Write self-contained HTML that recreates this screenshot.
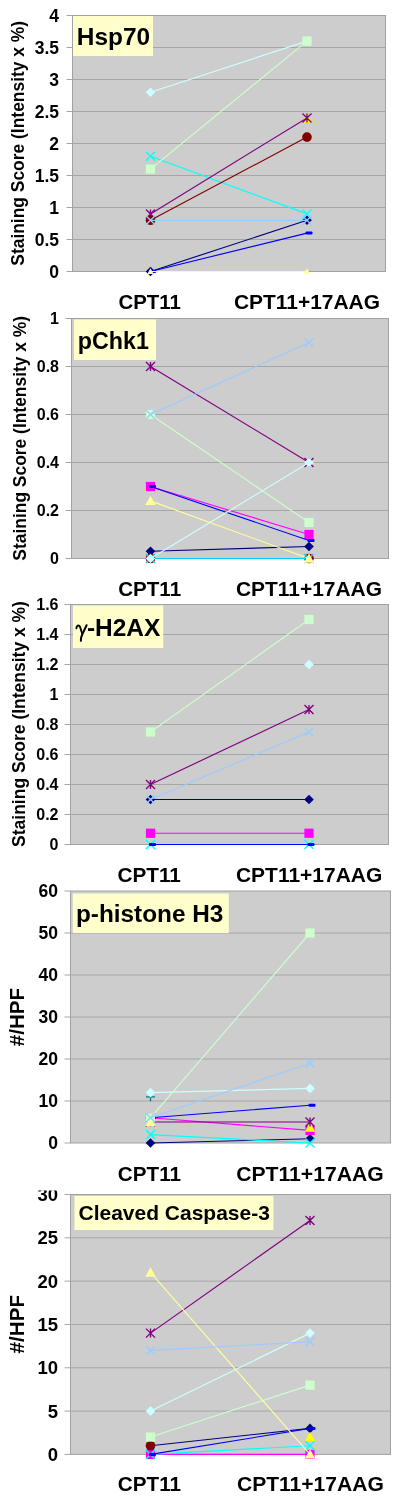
<!DOCTYPE html>
<html><head><meta charset="utf-8"><style>
html,body{margin:0;padding:0;background:#fff;}
svg{display:block;}
text{font-family:"Liberation Sans", sans-serif;fill:#000;}
svg{will-change:transform;filter:blur(0.45px);}
</style></head><body>
<svg width="400" height="1502" viewBox="0 0 400 1502">
<rect width="400" height="1502" fill="#fff"/>
<rect x="72.5" y="15.5" width="313.0" height="256.0" fill="#CDCDCD"/>
<line x1="66.5" y1="271.5" x2="72.5" y2="271.5" stroke="#A6A6A6" stroke-width="1"/>
<text x="59" y="277.80" text-anchor="end" font-size="17.5" font-weight="bold">0</text>
<line x1="72.5" y1="239.5" x2="385.5" y2="239.5" stroke="#A6A6A6" stroke-width="1"/>
<line x1="66.5" y1="239.5" x2="72.5" y2="239.5" stroke="#A6A6A6" stroke-width="1"/>
<text x="59" y="245.80" text-anchor="end" font-size="17.5" font-weight="bold">0.5</text>
<line x1="72.5" y1="207.5" x2="385.5" y2="207.5" stroke="#A6A6A6" stroke-width="1"/>
<line x1="66.5" y1="207.5" x2="72.5" y2="207.5" stroke="#A6A6A6" stroke-width="1"/>
<text x="59" y="213.80" text-anchor="end" font-size="17.5" font-weight="bold">1</text>
<line x1="72.5" y1="175.5" x2="385.5" y2="175.5" stroke="#A6A6A6" stroke-width="1"/>
<line x1="66.5" y1="175.5" x2="72.5" y2="175.5" stroke="#A6A6A6" stroke-width="1"/>
<text x="59" y="181.80" text-anchor="end" font-size="17.5" font-weight="bold">1.5</text>
<line x1="72.5" y1="143.5" x2="385.5" y2="143.5" stroke="#A6A6A6" stroke-width="1"/>
<line x1="66.5" y1="143.5" x2="72.5" y2="143.5" stroke="#A6A6A6" stroke-width="1"/>
<text x="59" y="149.80" text-anchor="end" font-size="17.5" font-weight="bold">2</text>
<line x1="72.5" y1="111.5" x2="385.5" y2="111.5" stroke="#A6A6A6" stroke-width="1"/>
<line x1="66.5" y1="111.5" x2="72.5" y2="111.5" stroke="#A6A6A6" stroke-width="1"/>
<text x="59" y="117.80" text-anchor="end" font-size="17.5" font-weight="bold">2.5</text>
<line x1="72.5" y1="79.5" x2="385.5" y2="79.5" stroke="#A6A6A6" stroke-width="1"/>
<line x1="66.5" y1="79.5" x2="72.5" y2="79.5" stroke="#A6A6A6" stroke-width="1"/>
<text x="59" y="85.80" text-anchor="end" font-size="17.5" font-weight="bold">3</text>
<line x1="72.5" y1="47.5" x2="385.5" y2="47.5" stroke="#A6A6A6" stroke-width="1"/>
<line x1="66.5" y1="47.5" x2="72.5" y2="47.5" stroke="#A6A6A6" stroke-width="1"/>
<text x="59" y="53.80" text-anchor="end" font-size="17.5" font-weight="bold">3.5</text>
<line x1="66.5" y1="15.5" x2="72.5" y2="15.5" stroke="#A6A6A6" stroke-width="1"/>
<text x="59" y="21.80" text-anchor="end" font-size="17.5" font-weight="bold">4</text>
<rect x="72.5" y="15.5" width="313.0" height="256.0" fill="none" stroke="#A2A2A2" stroke-width="1"/>
<rect x="73" y="16" width="80" height="40" fill="#FFFFCC"/>
<text x="76.77" y="45" font-size="24" font-family="'Liberation Sans'" font-weight="bold" textLength="73.30" lengthAdjust="spacingAndGlyphs">Hsp70</text>
<text transform="translate(23.5,264.7) rotate(-90)" x="-1.00" y="0" font-size="17.5" font-family="'Liberation Sans'" font-weight="bold" textLength="244.82" lengthAdjust="spacingAndGlyphs">Staining Score (Intensity x %)</text>
<text x="118.50" y="309.2" font-size="20.5" font-family="'Liberation Sans'" font-weight="bold" textLength="62.36" lengthAdjust="spacingAndGlyphs">CPT11</text>
<text x="233.98" y="309.2" font-size="20.5" font-family="'Liberation Sans'" font-weight="bold" textLength="146.04" lengthAdjust="spacingAndGlyphs">CPT11+17AAG</text>
<line x1="150.5" y1="271.50" x2="307.0" y2="220.30" stroke="#000080" stroke-width="1.15"/>
<path d="M150.5 266.7L155.3 271.5L150.5 276.3L145.7 271.5Z" fill="#000080"/>
<path d="M307.0 215.5L311.8 220.3L307.0 225.10000000000002L302.2 220.3Z" fill="#000080"/>
<path d="M307.0 113.34L312.2 122.74000000000001L301.8 122.74000000000001Z" fill="#FFFF00"/>
<line x1="150.5" y1="156.30" x2="307.0" y2="213.90" stroke="#00FFFF" stroke-width="1.15"/>
<path d="M146.0 151.8L155.0 160.8M155.0 151.8L146.0 160.8" stroke="#00FFFF" stroke-width="1.35" fill="none"/>
<path d="M302.5 209.4L311.5 218.4M311.5 209.4L302.5 218.4" stroke="#00FFFF" stroke-width="1.35" fill="none"/>
<line x1="150.5" y1="213.90" x2="307.0" y2="117.90" stroke="#800080" stroke-width="1.15"/>
<path d="M146.0 209.4L155.0 218.4M155.0 209.4L146.0 218.4M150.5 209.4L150.5 218.4" stroke="#800080" stroke-width="1.35" fill="none"/>
<path d="M302.5 113.4L311.5 122.4M311.5 113.4L302.5 122.4M307.0 113.4L307.0 122.4" stroke="#800080" stroke-width="1.35" fill="none"/>
<line x1="150.5" y1="220.30" x2="307.0" y2="137.10" stroke="#800000" stroke-width="1.15"/>
<circle cx="150.5" cy="220.3" r="4.8" fill="#800000"/>
<circle cx="307.0" cy="137.1" r="4.8" fill="#800000"/>
<line x1="150.5" y1="271.50" x2="307.0" y2="233.10" stroke="#0000FF" stroke-width="1.15"/>
<rect x="149.0" y="270.0" width="7" height="3" rx="1" fill="#0000FF"/>
<rect x="305.5" y="231.6" width="7" height="3" rx="1" fill="#0000FF"/>
<line x1="150.5" y1="92.30" x2="307.0" y2="41.10" stroke="#CCFFFF" stroke-width="1.15"/>
<path d="M150.5 87.5L155.3 92.3L150.5 97.1L145.7 92.3Z" fill="#CCFFFF"/>
<path d="M307.0 36.300000000000004L311.8 41.1L307.0 45.9L302.2 41.1Z" fill="#CCFFFF"/>
<line x1="150.5" y1="169.10" x2="307.0" y2="41.10" stroke="#CCFFCC" stroke-width="1.15"/>
<rect x="145.9" y="164.5" width="9.2" height="9.2" fill="#CCFFCC"/>
<rect x="302.4" y="36.5" width="9.2" height="9.2" fill="#CCFFCC"/>
<line x1="150.5" y1="271.50" x2="307.0" y2="271.50" stroke="#FFFF99" stroke-width="1.15"/>
<path d="M150.5 268.3L153.7 274.1L147.3 274.1Z" fill="#FFFF99"/>
<path d="M307.0 268.3L310.2 274.1L303.8 274.1Z" fill="#FFFF99"/>
<line x1="150.5" y1="220.30" x2="307.0" y2="220.30" stroke="#99CCFF" stroke-width="1.15"/>
<path d="M146.0 215.8L155.0 224.8M155.0 215.8L146.0 224.8" stroke="#99CCFF" stroke-width="1.35" fill="none"/>
<path d="M302.5 215.8L311.5 224.8M311.5 215.8L302.5 224.8" stroke="#99CCFF" stroke-width="1.35" fill="none"/>
<rect x="71.5" y="318.5" width="317.0" height="240.0" fill="#CDCDCD"/>
<line x1="65.5" y1="558.5" x2="71.5" y2="558.5" stroke="#A6A6A6" stroke-width="1"/>
<text x="59" y="564.26" text-anchor="end" font-size="16" font-weight="bold">0</text>
<line x1="71.5" y1="510.5" x2="388.5" y2="510.5" stroke="#A6A6A6" stroke-width="1"/>
<line x1="65.5" y1="510.5" x2="71.5" y2="510.5" stroke="#A6A6A6" stroke-width="1"/>
<text x="59" y="516.26" text-anchor="end" font-size="16" font-weight="bold">0.2</text>
<line x1="71.5" y1="462.5" x2="388.5" y2="462.5" stroke="#A6A6A6" stroke-width="1"/>
<line x1="65.5" y1="462.5" x2="71.5" y2="462.5" stroke="#A6A6A6" stroke-width="1"/>
<text x="59" y="468.26" text-anchor="end" font-size="16" font-weight="bold">0.4</text>
<line x1="71.5" y1="414.5" x2="388.5" y2="414.5" stroke="#A6A6A6" stroke-width="1"/>
<line x1="65.5" y1="414.5" x2="71.5" y2="414.5" stroke="#A6A6A6" stroke-width="1"/>
<text x="59" y="420.26" text-anchor="end" font-size="16" font-weight="bold">0.6</text>
<line x1="71.5" y1="366.5" x2="388.5" y2="366.5" stroke="#A6A6A6" stroke-width="1"/>
<line x1="65.5" y1="366.5" x2="71.5" y2="366.5" stroke="#A6A6A6" stroke-width="1"/>
<text x="59" y="372.26" text-anchor="end" font-size="16" font-weight="bold">0.8</text>
<line x1="65.5" y1="318.5" x2="71.5" y2="318.5" stroke="#A6A6A6" stroke-width="1"/>
<text x="59" y="324.26" text-anchor="end" font-size="16" font-weight="bold">1</text>
<rect x="71.5" y="318.5" width="317.0" height="240.0" fill="none" stroke="#A2A2A2" stroke-width="1"/>
<rect x="74" y="319.5" width="82" height="40.5" fill="#FFFFCC"/>
<text x="77.84" y="348.7" font-size="23.7" font-family="'Liberation Sans'" font-weight="bold" textLength="71.06" lengthAdjust="spacingAndGlyphs">pChk1</text>
<text transform="translate(26.3,559.65) rotate(-90)" x="-0.99" y="0" font-size="17.5" font-family="'Liberation Sans'" font-weight="bold" textLength="244.77" lengthAdjust="spacingAndGlyphs">Staining Score (Intensity x %)</text>
<text x="118.20" y="595.8" font-size="20.5" font-family="'Liberation Sans'" font-weight="bold" textLength="62.88" lengthAdjust="spacingAndGlyphs">CPT11</text>
<text x="235.98" y="595.8" font-size="20.5" font-family="'Liberation Sans'" font-weight="bold" textLength="146.04" lengthAdjust="spacingAndGlyphs">CPT11+17AAG</text>
<line x1="150.5" y1="551.30" x2="309.0" y2="546.50" stroke="#000080" stroke-width="1.15"/>
<path d="M150.5 546.5L155.3 551.3L150.5 556.0999999999999L145.7 551.3Z" fill="#000080"/>
<path d="M309.0 541.7L313.8 546.5L309.0 551.3L304.2 546.5Z" fill="#000080"/>
<line x1="150.5" y1="486.50" x2="309.0" y2="534.50" stroke="#FF00FF" stroke-width="1.15"/>
<rect x="145.9" y="481.9" width="9.2" height="9.2" fill="#FF00FF"/>
<rect x="304.4" y="529.9" width="9.2" height="9.2" fill="#FF00FF"/>
<line x1="150.5" y1="366.50" x2="309.0" y2="462.50" stroke="#800080" stroke-width="1.15"/>
<path d="M146.0 362.0L155.0 371.0M155.0 362.0L146.0 371.0M150.5 362.0L150.5 371.0" stroke="#800080" stroke-width="1.35" fill="none"/>
<path d="M304.5 458.0L313.5 467.0M313.5 458.0L304.5 467.0M309.0 458.0L309.0 467.0" stroke="#800080" stroke-width="1.35" fill="none"/>
<line x1="150.5" y1="558.50" x2="309.0" y2="558.50" stroke="#800000" stroke-width="1.15"/>
<circle cx="150.5" cy="558.5" r="4.8" fill="#800000"/>
<circle cx="309.0" cy="558.5" r="4.8" fill="#800000"/>
<line x1="150.5" y1="558.50" x2="309.0" y2="558.50" stroke="#00CCFF" stroke-width="1.15"/>
<path d="M146.0 554.0L155.0 563.0M155.0 554.0L146.0 563.0" stroke="#00CCFF" stroke-width="1.35" fill="none"/>
<path d="M304.5 554.0L313.5 563.0M313.5 554.0L304.5 563.0" stroke="#00CCFF" stroke-width="1.35" fill="none"/>
<line x1="150.5" y1="486.50" x2="309.0" y2="540.50" stroke="#0000FF" stroke-width="1.15"/>
<rect x="149.0" y="485.0" width="7" height="3" rx="1" fill="#0000FF"/>
<rect x="307.5" y="539.0" width="7" height="3" rx="1" fill="#0000FF"/>
<line x1="150.5" y1="558.50" x2="309.0" y2="462.50" stroke="#CCFFFF" stroke-width="1.15"/>
<path d="M150.5 553.7L155.3 558.5L150.5 563.3L145.7 558.5Z" fill="#CCFFFF"/>
<path d="M309.0 457.7L313.8 462.5L309.0 467.3L304.2 462.5Z" fill="#CCFFFF"/>
<line x1="150.5" y1="414.50" x2="309.0" y2="522.50" stroke="#CCFFCC" stroke-width="1.15"/>
<rect x="145.9" y="409.9" width="9.2" height="9.2" fill="#CCFFCC"/>
<rect x="304.4" y="517.9" width="9.2" height="9.2" fill="#CCFFCC"/>
<line x1="150.5" y1="500.90" x2="309.0" y2="558.50" stroke="#FFFF99" stroke-width="1.15"/>
<path d="M150.5 495.7L155.7 505.09999999999997L145.3 505.09999999999997Z" fill="#FFFF99"/>
<path d="M309.0 553.3L314.2 562.7L303.8 562.7Z" fill="#FFFF99"/>
<line x1="150.5" y1="414.50" x2="309.0" y2="342.50" stroke="#99CCFF" stroke-width="1.15"/>
<path d="M146.0 410.0L155.0 419.0M155.0 410.0L146.0 419.0" stroke="#99CCFF" stroke-width="1.35" fill="none"/>
<path d="M304.5 338.0L313.5 347.0M313.5 338.0L304.5 347.0" stroke="#99CCFF" stroke-width="1.35" fill="none"/>
<rect x="70.5" y="604.5" width="318.0" height="240.0" fill="#CDCDCD"/>
<line x1="64.5" y1="844.5" x2="70.5" y2="844.5" stroke="#A6A6A6" stroke-width="1"/>
<text x="58.5" y="850.26" text-anchor="end" font-size="16" font-weight="bold">0</text>
<line x1="70.5" y1="814.5" x2="388.5" y2="814.5" stroke="#A6A6A6" stroke-width="1"/>
<line x1="64.5" y1="814.5" x2="70.5" y2="814.5" stroke="#A6A6A6" stroke-width="1"/>
<text x="58.5" y="820.26" text-anchor="end" font-size="16" font-weight="bold">0.2</text>
<line x1="70.5" y1="784.5" x2="388.5" y2="784.5" stroke="#A6A6A6" stroke-width="1"/>
<line x1="64.5" y1="784.5" x2="70.5" y2="784.5" stroke="#A6A6A6" stroke-width="1"/>
<text x="58.5" y="790.26" text-anchor="end" font-size="16" font-weight="bold">0.4</text>
<line x1="70.5" y1="754.5" x2="388.5" y2="754.5" stroke="#A6A6A6" stroke-width="1"/>
<line x1="64.5" y1="754.5" x2="70.5" y2="754.5" stroke="#A6A6A6" stroke-width="1"/>
<text x="58.5" y="760.26" text-anchor="end" font-size="16" font-weight="bold">0.6</text>
<line x1="70.5" y1="724.5" x2="388.5" y2="724.5" stroke="#A6A6A6" stroke-width="1"/>
<line x1="64.5" y1="724.5" x2="70.5" y2="724.5" stroke="#A6A6A6" stroke-width="1"/>
<text x="58.5" y="730.26" text-anchor="end" font-size="16" font-weight="bold">0.8</text>
<line x1="70.5" y1="694.5" x2="388.5" y2="694.5" stroke="#A6A6A6" stroke-width="1"/>
<line x1="64.5" y1="694.5" x2="70.5" y2="694.5" stroke="#A6A6A6" stroke-width="1"/>
<text x="58.5" y="700.26" text-anchor="end" font-size="16" font-weight="bold">1</text>
<line x1="70.5" y1="664.5" x2="388.5" y2="664.5" stroke="#A6A6A6" stroke-width="1"/>
<line x1="64.5" y1="664.5" x2="70.5" y2="664.5" stroke="#A6A6A6" stroke-width="1"/>
<text x="58.5" y="670.26" text-anchor="end" font-size="16" font-weight="bold">1.2</text>
<line x1="70.5" y1="634.5" x2="388.5" y2="634.5" stroke="#A6A6A6" stroke-width="1"/>
<line x1="64.5" y1="634.5" x2="70.5" y2="634.5" stroke="#A6A6A6" stroke-width="1"/>
<text x="58.5" y="640.26" text-anchor="end" font-size="16" font-weight="bold">1.4</text>
<line x1="64.5" y1="604.5" x2="70.5" y2="604.5" stroke="#A6A6A6" stroke-width="1"/>
<text x="58.5" y="610.26" text-anchor="end" font-size="16" font-weight="bold">1.6</text>
<rect x="70.5" y="604.5" width="318.0" height="240.0" fill="none" stroke="#A2A2A2" stroke-width="1"/>
<rect x="73" y="605.5" width="90.25" height="42.5" fill="#FFFFCC"/>
<text x="86.95" y="635.5" font-size="23.3" font-family="'Liberation Sans'" font-weight="bold" textLength="73.40" lengthAdjust="spacingAndGlyphs">-H2AX</text>
<text transform="translate(25.2,845.9) rotate(-90)" x="-1.00" y="0" font-size="17.5" font-family="'Liberation Sans'" font-weight="bold" textLength="245.83" lengthAdjust="spacingAndGlyphs">Staining Score (Intensity x %)</text>
<text x="117.49" y="881.5" font-size="20.5" font-family="'Liberation Sans'" font-weight="bold" textLength="63.39" lengthAdjust="spacingAndGlyphs">CPT11</text>
<text x="235.98" y="881.5" font-size="20.5" font-family="'Liberation Sans'" font-weight="bold" textLength="146.25" lengthAdjust="spacingAndGlyphs">CPT11+17AAG</text>
<line x1="150.5" y1="799.50" x2="309.0" y2="799.50" stroke="#000080" stroke-width="1.15"/>
<path d="M150.5 794.7L155.3 799.5L150.5 804.3L145.7 799.5Z" fill="#000080"/>
<path d="M309.0 794.7L313.8 799.5L309.0 804.3L304.2 799.5Z" fill="#000080"/>
<line x1="150.5" y1="833.25" x2="309.0" y2="833.25" stroke="#FF00FF" stroke-width="1.15"/>
<rect x="145.9" y="828.65" width="9.2" height="9.2" fill="#FF00FF"/>
<rect x="304.4" y="828.65" width="9.2" height="9.2" fill="#FF00FF"/>
<line x1="150.5" y1="844.50" x2="309.0" y2="844.50" stroke="#00FFFF" stroke-width="1.15"/>
<path d="M146.0 840.0L155.0 849.0M155.0 840.0L146.0 849.0" stroke="#00FFFF" stroke-width="1.35" fill="none"/>
<path d="M304.5 840.0L313.5 849.0M313.5 840.0L304.5 849.0" stroke="#00FFFF" stroke-width="1.35" fill="none"/>
<line x1="150.5" y1="784.50" x2="309.0" y2="709.50" stroke="#800080" stroke-width="1.15"/>
<path d="M146.0 780.0L155.0 789.0M155.0 780.0L146.0 789.0M150.5 780.0L150.5 789.0" stroke="#800080" stroke-width="1.35" fill="none"/>
<path d="M304.5 705.0L313.5 714.0M313.5 705.0L304.5 714.0M309.0 705.0L309.0 714.0" stroke="#800080" stroke-width="1.35" fill="none"/>
<line x1="150.5" y1="844.50" x2="309.0" y2="844.50" stroke="#0000FF" stroke-width="1.15"/>
<rect x="149.0" y="843.0" width="7" height="3" rx="1" fill="#0000FF"/>
<rect x="307.5" y="843.0" width="7" height="3" rx="1" fill="#0000FF"/>
<path d="M309.0 659.7L313.8 664.5L309.0 669.3L304.2 664.5Z" fill="#CCFFFF"/>
<line x1="150.5" y1="732.00" x2="309.0" y2="619.50" stroke="#CCFFCC" stroke-width="1.15"/>
<rect x="145.9" y="727.4" width="9.2" height="9.2" fill="#CCFFCC"/>
<rect x="304.4" y="614.9" width="9.2" height="9.2" fill="#CCFFCC"/>
<line x1="150.5" y1="799.50" x2="309.0" y2="732.00" stroke="#99CCFF" stroke-width="1.15"/>
<path d="M146.0 795.0L155.0 804.0M155.0 795.0L146.0 804.0" stroke="#99CCFF" stroke-width="1.35" fill="none"/>
<path d="M304.5 727.5L313.5 736.5M313.5 727.5L304.5 736.5" stroke="#99CCFF" stroke-width="1.35" fill="none"/>
<rect x="70.5" y="891.0" width="320.0" height="252.0" fill="#CDCDCD"/>
<line x1="64.5" y1="1143.0" x2="70.5" y2="1143.0" stroke="#A6A6A6" stroke-width="1"/>
<text x="58" y="1149.30" text-anchor="end" font-size="17.5" font-weight="bold">0</text>
<line x1="70.5" y1="1101.0" x2="390.5" y2="1101.0" stroke="#A6A6A6" stroke-width="1"/>
<line x1="64.5" y1="1101.0" x2="70.5" y2="1101.0" stroke="#A6A6A6" stroke-width="1"/>
<text x="58" y="1107.30" text-anchor="end" font-size="17.5" font-weight="bold">10</text>
<line x1="70.5" y1="1059.0" x2="390.5" y2="1059.0" stroke="#A6A6A6" stroke-width="1"/>
<line x1="64.5" y1="1059.0" x2="70.5" y2="1059.0" stroke="#A6A6A6" stroke-width="1"/>
<text x="58" y="1065.30" text-anchor="end" font-size="17.5" font-weight="bold">20</text>
<line x1="70.5" y1="1017.0" x2="390.5" y2="1017.0" stroke="#A6A6A6" stroke-width="1"/>
<line x1="64.5" y1="1017.0" x2="70.5" y2="1017.0" stroke="#A6A6A6" stroke-width="1"/>
<text x="58" y="1023.30" text-anchor="end" font-size="17.5" font-weight="bold">30</text>
<line x1="70.5" y1="975.0" x2="390.5" y2="975.0" stroke="#A6A6A6" stroke-width="1"/>
<line x1="64.5" y1="975.0" x2="70.5" y2="975.0" stroke="#A6A6A6" stroke-width="1"/>
<text x="58" y="981.30" text-anchor="end" font-size="17.5" font-weight="bold">40</text>
<line x1="70.5" y1="933.0" x2="390.5" y2="933.0" stroke="#A6A6A6" stroke-width="1"/>
<line x1="64.5" y1="933.0" x2="70.5" y2="933.0" stroke="#A6A6A6" stroke-width="1"/>
<text x="58" y="939.30" text-anchor="end" font-size="17.5" font-weight="bold">50</text>
<line x1="64.5" y1="891.0" x2="70.5" y2="891.0" stroke="#A6A6A6" stroke-width="1"/>
<text x="58" y="897.30" text-anchor="end" font-size="17.5" font-weight="bold">60</text>
<rect x="70.5" y="891.0" width="320.0" height="252.0" fill="none" stroke="#A2A2A2" stroke-width="1"/>
<rect x="72.75" y="893.5" width="156.0" height="39.5" fill="#FFFFCC"/>
<text x="75.93" y="922" font-size="23.5" font-family="'Liberation Sans'" font-weight="bold" textLength="147.40" lengthAdjust="spacingAndGlyphs">p-histone H3</text>
<text transform="translate(24.1,1046.25) rotate(-90)" x="0.00" y="0" font-size="20.5" font-family="'Liberation Sans'" font-weight="bold" textLength="58.47" lengthAdjust="spacingAndGlyphs">#/HPF</text>
<text x="117.89" y="1180.5" font-size="20.5" font-family="'Liberation Sans'" font-weight="bold" textLength="63.19" lengthAdjust="spacingAndGlyphs">CPT11</text>
<text x="236.17" y="1180.5" font-size="20.5" font-family="'Liberation Sans'" font-weight="bold" textLength="147.67" lengthAdjust="spacingAndGlyphs">CPT11+17AAG</text>
<line x1="150.5" y1="1143.00" x2="310.0" y2="1138.80" stroke="#000080" stroke-width="1.15"/>
<path d="M150.5 1138.2L155.3 1143.0L150.5 1147.8L145.7 1143.0Z" fill="#000080"/>
<path d="M310.0 1134.0L314.8 1138.8L310.0 1143.6L305.2 1138.8Z" fill="#000080"/>
<line x1="150.5" y1="1117.80" x2="310.0" y2="1130.40" stroke="#FF00FF" stroke-width="1.15"/>
<rect x="145.9" y="1113.2" width="9.2" height="9.2" fill="#FF00FF"/>
<rect x="305.4" y="1125.8000000000002" width="9.2" height="9.2" fill="#FF00FF"/>
<path d="M310.0 1122.26L315.2 1131.66L304.8 1131.66Z" fill="#FFFF00"/>
<line x1="150.5" y1="1134.60" x2="310.0" y2="1143.00" stroke="#00FFFF" stroke-width="1.15"/>
<path d="M146.0 1130.1L155.0 1139.1M155.0 1130.1L146.0 1139.1" stroke="#00FFFF" stroke-width="1.35" fill="none"/>
<path d="M305.5 1138.5L314.5 1147.5M314.5 1138.5L305.5 1147.5" stroke="#00FFFF" stroke-width="1.35" fill="none"/>
<line x1="150.5" y1="1122.00" x2="310.0" y2="1122.00" stroke="#800080" stroke-width="1.15"/>
<path d="M146.0 1117.5L155.0 1126.5M155.0 1117.5L146.0 1126.5M150.5 1117.5L150.5 1126.5" stroke="#800080" stroke-width="1.35" fill="none"/>
<path d="M305.5 1117.5L314.5 1126.5M314.5 1117.5L305.5 1126.5M310.0 1117.5L310.0 1126.5" stroke="#800080" stroke-width="1.35" fill="none"/>
<path d="M146.0 1096.8L155.0 1096.8M150.5 1092.3L150.5 1101.3" stroke="#008080" stroke-width="1.35" fill="none"/>
<line x1="150.5" y1="1117.80" x2="310.0" y2="1105.20" stroke="#0000FF" stroke-width="1.15"/>
<rect x="149.0" y="1116.3" width="7" height="3" rx="1" fill="#0000FF"/>
<rect x="308.5" y="1103.7" width="7" height="3" rx="1" fill="#0000FF"/>
<line x1="150.5" y1="1092.60" x2="310.0" y2="1088.40" stroke="#CCFFFF" stroke-width="1.15"/>
<path d="M150.5 1087.8L155.3 1092.6L150.5 1097.3999999999999L145.7 1092.6Z" fill="#CCFFFF"/>
<path d="M310.0 1083.6000000000001L314.8 1088.4L310.0 1093.2L305.2 1088.4Z" fill="#CCFFFF"/>
<line x1="150.5" y1="1117.80" x2="310.0" y2="933.00" stroke="#CCFFCC" stroke-width="1.15"/>
<rect x="145.9" y="1113.2" width="9.2" height="9.2" fill="#CCFFCC"/>
<rect x="305.4" y="928.4" width="9.2" height="9.2" fill="#CCFFCC"/>
<path d="M150.5 1116.8L155.7 1126.2L145.3 1126.2Z" fill="#FFFF99"/>
<line x1="150.5" y1="1117.80" x2="310.0" y2="1063.20" stroke="#99CCFF" stroke-width="1.15"/>
<path d="M146.0 1113.3L155.0 1122.3M155.0 1113.3L146.0 1122.3" stroke="#99CCFF" stroke-width="1.35" fill="none"/>
<path d="M305.5 1058.7L314.5 1067.7M314.5 1058.7L305.5 1067.7" stroke="#99CCFF" stroke-width="1.35" fill="none"/>
<rect x="70.5" y="1194.5100000000002" width="320.0" height="259.8899999999999" fill="#CDCDCD"/>
<line x1="64.5" y1="1454.4" x2="70.5" y2="1454.4" stroke="#A6A6A6" stroke-width="1"/>
<text x="58" y="1461.06" text-anchor="end" font-size="18.5" font-weight="bold">0</text>
<line x1="70.5" y1="1411.085" x2="390.5" y2="1411.085" stroke="#A6A6A6" stroke-width="1"/>
<line x1="64.5" y1="1411.085" x2="70.5" y2="1411.085" stroke="#A6A6A6" stroke-width="1"/>
<text x="58" y="1417.75" text-anchor="end" font-size="18.5" font-weight="bold">5</text>
<line x1="70.5" y1="1367.77" x2="390.5" y2="1367.77" stroke="#A6A6A6" stroke-width="1"/>
<line x1="64.5" y1="1367.77" x2="70.5" y2="1367.77" stroke="#A6A6A6" stroke-width="1"/>
<text x="58" y="1374.43" text-anchor="end" font-size="18.5" font-weight="bold">10</text>
<line x1="70.5" y1="1324.4550000000002" x2="390.5" y2="1324.4550000000002" stroke="#A6A6A6" stroke-width="1"/>
<line x1="64.5" y1="1324.4550000000002" x2="70.5" y2="1324.4550000000002" stroke="#A6A6A6" stroke-width="1"/>
<text x="58" y="1331.12" text-anchor="end" font-size="18.5" font-weight="bold">15</text>
<line x1="70.5" y1="1281.14" x2="390.5" y2="1281.14" stroke="#A6A6A6" stroke-width="1"/>
<line x1="64.5" y1="1281.14" x2="70.5" y2="1281.14" stroke="#A6A6A6" stroke-width="1"/>
<text x="58" y="1287.80" text-anchor="end" font-size="18.5" font-weight="bold">20</text>
<line x1="70.5" y1="1237.825" x2="390.5" y2="1237.825" stroke="#A6A6A6" stroke-width="1"/>
<line x1="64.5" y1="1237.825" x2="70.5" y2="1237.825" stroke="#A6A6A6" stroke-width="1"/>
<text x="58" y="1244.49" text-anchor="end" font-size="18.5" font-weight="bold">25</text>
<line x1="64.5" y1="1194.5100000000002" x2="70.5" y2="1194.5100000000002" stroke="#A6A6A6" stroke-width="1"/>
<text x="58" y="1201.17" text-anchor="end" font-size="18.5" font-weight="bold">30</text>
<rect x="70.5" y="1194.5100000000002" width="320.0" height="259.8899999999999" fill="none" stroke="#A2A2A2" stroke-width="1"/>
<rect x="74.5" y="1196" width="198.89999999999998" height="34" fill="#FFFFCC"/>
<text x="78.48" y="1220" font-size="20.5" font-family="'Liberation Sans'" font-weight="bold" textLength="191.44" lengthAdjust="spacingAndGlyphs">Cleaved Caspase-3</text>
<text transform="translate(24.1,1353.4) rotate(-90)" x="0.00" y="0" font-size="20.5" font-family="'Liberation Sans'" font-weight="bold" textLength="58.42" lengthAdjust="spacingAndGlyphs">#/HPF</text>
<text x="117.89" y="1491.3" font-size="20.5" font-family="'Liberation Sans'" font-weight="bold" textLength="63.19" lengthAdjust="spacingAndGlyphs">CPT11</text>
<text x="236.97" y="1491.3" font-size="20.5" font-family="'Liberation Sans'" font-weight="bold" textLength="146.85" lengthAdjust="spacingAndGlyphs">CPT11+17AAG</text>
<line x1="150.5" y1="1445.74" x2="310.0" y2="1428.41" stroke="#000080" stroke-width="1.15"/>
<path d="M150.5 1440.94L155.3 1445.74L150.5 1450.54L145.7 1445.74Z" fill="#000080"/>
<path d="M310.0 1423.6100000000001L314.8 1428.41L310.0 1433.21L305.2 1428.41Z" fill="#000080"/>
<line x1="150.5" y1="1454.40" x2="310.0" y2="1454.40" stroke="#FF00FF" stroke-width="1.15"/>
<rect x="145.9" y="1449.8000000000002" width="9.2" height="9.2" fill="#FF00FF"/>
<rect x="305.4" y="1449.8000000000002" width="9.2" height="9.2" fill="#FF00FF"/>
<path d="M310.0 1431.87L315.2 1441.27L304.8 1441.27Z" fill="#FFFF00"/>
<line x1="150.5" y1="1454.40" x2="310.0" y2="1445.74" stroke="#00FFFF" stroke-width="1.15"/>
<path d="M146.0 1449.9L155.0 1458.9M155.0 1449.9L146.0 1458.9" stroke="#00FFFF" stroke-width="1.35" fill="none"/>
<path d="M305.5 1441.24L314.5 1450.24M314.5 1441.24L305.5 1450.24" stroke="#00FFFF" stroke-width="1.35" fill="none"/>
<line x1="150.5" y1="1333.12" x2="310.0" y2="1220.50" stroke="#800080" stroke-width="1.15"/>
<path d="M146.0 1328.62L155.0 1337.62M155.0 1328.62L146.0 1337.62M150.5 1328.62L150.5 1337.62" stroke="#800080" stroke-width="1.35" fill="none"/>
<path d="M305.5 1216.0L314.5 1225.0M314.5 1216.0L305.5 1225.0M310.0 1216.0L310.0 1225.0" stroke="#800080" stroke-width="1.35" fill="none"/>
<circle cx="150.5" cy="1445.74" r="4.8" fill="#800000"/>
<line x1="150.5" y1="1454.40" x2="310.0" y2="1428.41" stroke="#0000FF" stroke-width="1.15"/>
<rect x="149.0" y="1452.9" width="7" height="3" rx="1" fill="#0000FF"/>
<rect x="308.5" y="1426.91" width="7" height="3" rx="1" fill="#0000FF"/>
<line x1="150.5" y1="1411.09" x2="310.0" y2="1333.12" stroke="#CCFFFF" stroke-width="1.15"/>
<path d="M150.5 1406.29L155.3 1411.09L150.5 1415.8899999999999L145.7 1411.09Z" fill="#CCFFFF"/>
<path d="M310.0 1328.32L314.8 1333.12L310.0 1337.9199999999998L305.2 1333.12Z" fill="#CCFFFF"/>
<line x1="150.5" y1="1437.07" x2="310.0" y2="1385.10" stroke="#CCFFCC" stroke-width="1.15"/>
<rect x="145.9" y="1432.47" width="9.2" height="9.2" fill="#CCFFCC"/>
<rect x="305.4" y="1380.5" width="9.2" height="9.2" fill="#CCFFCC"/>
<line x1="150.5" y1="1272.48" x2="310.0" y2="1454.40" stroke="#FFFF99" stroke-width="1.15"/>
<path d="M150.5 1267.28L155.7 1276.68L145.3 1276.68Z" fill="#FFFF99"/>
<path d="M310.0 1449.2L315.2 1458.6000000000001L304.8 1458.6000000000001Z" fill="#FFFF99"/>
<line x1="150.5" y1="1350.44" x2="310.0" y2="1341.78" stroke="#99CCFF" stroke-width="1.15"/>
<path d="M146.0 1345.94L155.0 1354.94M155.0 1345.94L146.0 1354.94" stroke="#99CCFF" stroke-width="1.35" fill="none"/>
<path d="M305.5 1337.28L314.5 1346.28M314.5 1337.28L305.5 1346.28" stroke="#99CCFF" stroke-width="1.35" fill="none"/>
<rect x="30" y="1183" width="30" height="7.5" fill="#fff"/>
<path d="M76.4 628.2C76.6 625.8 78.6 624.4 80 626.8L82.3 634" stroke="#000" stroke-width="1.9" fill="none" stroke-linecap="round"/><path d="M86.6 625.2L82.3 634.2C81.3 636.4 80.7 638.8 80.9 640.8" stroke="#000" stroke-width="2" fill="none" stroke-linecap="round"/>
</svg>
</body></html>
